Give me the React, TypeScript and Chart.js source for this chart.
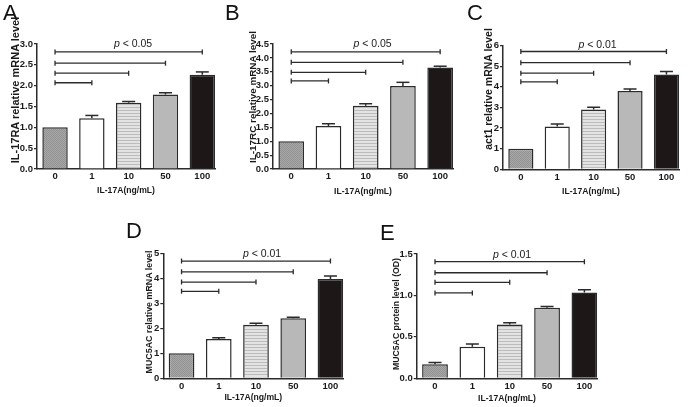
import React, { useEffect, useRef } from "react";
import { Chart, registerables } from "chart.js";
Chart.register(...registerables);

const FONT = "'Liberation Sans', Arial, Helvetica, sans-serif";
Chart.defaults.font.family = FONT;
Chart.defaults.color = "#1a1a1a";

// ---- shared data ----
const categories = ["0", "1", "10", "50", "100"];
const xAxisTitle = "IL-17A(ng/mL)";

// ---- panel A ----
const valuesA = [1.0, 1.22, 1.59, 1.79, 2.26];
const errorsA = [0, 0.065, 0.03, 0.04, 0.07];
const bracketsA = [2.07, 2.3, 2.54, 2.81];
const yTicksA = { max: 3, step: 0.5, decimals: 1 };

// ---- panel B ----
const valuesB = [1.0, 1.55, 2.28, 2.99, 3.65];
const errorsB = [0, 0.08, 0.07, 0.13, 0.05];
const bracketsB = [3.17, 3.48, 3.84, 4.22];
const yTicksB = { max: 4.5, step: 0.5, decimals: 1 };

// ---- panel C ----
const valuesC = [1.0, 2.07, 2.9, 3.8, 4.6];
const errorsC = [0, 0.13, 0.11, 0.09, 0.14];
const bracketsC = [4.24, 4.66, 5.17, 5.71];
const yTicksC = { max: 6, step: 1, decimals: 0 };

// ---- panel D ----
const valuesD = [1.0, 1.57, 2.14, 2.4, 3.97];
const errorsD = [0, 0.05, 0.06, 0.04, 0.12];
const bracketsD = [3.48, 3.85, 4.26, 4.69];
const yTicksD = { max: 5, step: 1, decimals: 0 };

// ---- panel E ----
const valuesE = [0.17, 0.38, 0.65, 0.85, 1.035];
const errorsE = [0.02, 0.035, 0.02, 0.015, 0.035];
const bracketsE = [1.03, 1.158, 1.274, 1.407];
const yTicksE = { max: 1.5, step: 0.5, decimals: 1 };

type Panel = {
  letter: string;
  values: number[];
  errors: number[];
  brackets: number[];
  yt: { max: number; step: number; decimals: number };
  yTitle: string;
  pValue: string;
  box: { left: number; top: number; w: number; h: number };
  pad: { left: number; right: number; top: number; bottom: number };
  yW: number;
  xH: number;
  xTitlePad: number;
  yTitlePos: { x: number; y: number; size: number };
  pPos: { x: number; y: number };
  letterPos: { x: number; y: number };
};

const panels: Panel[] = [
  {
    letter: "A", values: valuesA, errors: errorsA, brackets: bracketsA, yt: yTicksA,
    yTitle: "IL-17RA relative mRNA level", pValue: "0.05",
    box: { left: 0, top: 0, w: 225, h: 200 },
    pad: { left: 0, right: 10, top: 44, bottom: 0 },
    yW: 37, xH: 31, xTitlePad: 4,
    yTitlePos: { x: 15, y: 90, size: 11 }, pPos: { x: 133, y: 43 }, letterPos: { x: 3, y: 2 },
  },
  {
    letter: "B", values: valuesB, errors: errorsB, brackets: bracketsB, yt: yTicksB,
    yTitle: "IL-17RC relative mRNA level", pValue: "0.05",
    box: { left: 230, top: 0, w: 230, h: 200 },
    pad: { left: 0, right: 7, top: 44, bottom: 0 },
    yW: 43, xH: 31, xTitlePad: 3,
    yTitlePos: { x: 252.5, y: 96.5, size: 9.9 }, pPos: { x: 372.5, y: 43 }, letterPos: { x: 225, y: 2 },
  },
  {
    letter: "C", values: valuesC, errors: errorsC, brackets: bracketsC, yt: yTicksC,
    yTitle: "act1 relative mRNA level", pValue: "0.01",
    box: { left: 462, top: 0, w: 227, h: 200 },
    pad: { left: 0, right: 10, top: 45.5, bottom: 0 },
    yW: 41, xH: 30.7, xTitlePad: 3,
    yTitlePos: { x: 487.5, y: 89, size: 10.5 }, pPos: { x: 597.5, y: 44 }, letterPos: { x: 467, y: 2 },
  },
  {
    letter: "D", values: valuesD, errors: errorsD, brackets: bracketsD, yt: yTicksD,
    yTitle: "MUC5AC relative mRNA level", pValue: "0.01",
    box: { left: 120, top: 210, w: 235, h: 197 },
    pad: { left: 0, right: 11.7, top: 43.3, bottom: 0 },
    yW: 43.3, xH: 28.7, xTitlePad: 4,
    yTitlePos: { x: 149, y: 311.5, size: 8.9 }, pPos: { x: 262, y: 253 }, letterPos: { x: 126, y: 220 },
  },
  {
    letter: "E", values: valuesE, errors: errorsE, brackets: bracketsE, yt: yTicksE,
    yTitle: "MUC5AC protein level (OD)", pValue: "0.01",
    box: { left: 370, top: 210, w: 240, h: 197 },
    pad: { left: 0, right: 12.7, top: 44, bottom: 0 },
    yW: 46.7, xH: 28.7, xTitlePad: 3,
    yTitlePos: { x: 396, y: 314, size: 8.7 }, pPos: { x: 512, y: 253.5 }, letterPos: { x: 380, y: 222 },
  },
];

const INK = "#2b2b2b";

function makePattern(
  ctx: CanvasRenderingContext2D,
  w: number,
  h: number,
  draw: (c: CanvasRenderingContext2D) => void
) {
  const c = document.createElement("canvas");
  c.width = w;
  c.height = h;
  const cc = c.getContext("2d")!;
  draw(cc);
  return ctx.createPattern(c, "repeat")!;
}

function PanelChart({ p }: { p: Panel }) {
  const ref = useRef<HTMLCanvasElement>(null);
  useEffect(() => {
    const canvas = ref.current!;
    const ctx = canvas.getContext("2d")!;
    const checker = makePattern(ctx, 2, 2, (c) => {
      c.fillStyle = "#a6a6a6";
      c.fillRect(0, 0, 2, 2);
      c.fillStyle = "#949494";
      c.fillRect(0, 0, 1, 1);
      c.fillRect(1, 1, 1, 1);
    });
    const stripes = makePattern(ctx, 4, 3, (c) => {
      c.fillStyle = "#e3e3e3";
      c.fillRect(0, 0, 4, 3);
      c.fillStyle = "#bcbcbc";
      c.fillRect(0, 2, 4, 1);
    });
    const fills: (string | CanvasPattern)[] = [checker, "#ffffff", stripes, "#b8b8b8", "#1d1717"];

    const errData: { x: number; y: number | null }[] = [];
    p.values.forEach((v, i) => {
      if (p.errors[i] > 0) {
        errData.push({ x: i, y: v }, { x: i, y: v + p.errors[i] }, { x: i, y: null });
      }
    });

    const bracketSets = p.brackets.map((level, k) => ({
      type: "line" as const,
      data: [
        { x: 0, y: level },
        { x: k + 1, y: level },
      ],
      borderColor: INK,
      borderWidth: 1.3,
      pointStyle: "line" as const,
      rotation: 90,
      pointRadius: 2.5,
      pointHoverRadius: 2.5,
      pointBorderColor: INK,
      pointBorderWidth: 1.3,
      fill: false,
      order: 0,
    }));

    const chart = new Chart(ctx, {
      type: "bar",
      data: {
        datasets: [
          {
            type: "bar",
            data: p.values.map((v, i) => ({ x: i, y: v })),
            backgroundColor: fills,
            borderColor: INK,
            borderWidth: 1.5,
            categoryPercentage: 1,
            barPercentage: 0.69,
            order: 1,
          } as any,
          {
            type: "line",
            data: errData,
            borderColor: INK,
            borderWidth: 1.5,
            spanGaps: false,
            pointStyle: "line",
            pointRadius: (c: any) => (c.dataIndex % 3 === 1 ? 6.5 : 0),
            pointHoverRadius: (c: any) => (c.dataIndex % 3 === 1 ? 6.5 : 0),
            pointBorderColor: INK,
            pointBorderWidth: 1.5,
            fill: false,
            order: 0,
          } as any,
          ...(bracketSets as any[]),
        ],
      },
      options: {
        responsive: false,
        maintainAspectRatio: false,
        animation: false,
        devicePixelRatio: 1,
        events: [],
        layout: { padding: p.pad },
        plugins: { legend: { display: false }, tooltip: { enabled: false } },
        scales: {
          x: {
            type: "linear",
            min: -0.49,
            max: 4.345,
            offset: false,
            afterBuildTicks: (s: any) => {
              s.ticks = categories.map((_, i) => ({ value: i }));
            },
            afterFit: (s: any) => {
              s.height = p.xH;
            },
            grid: { display: false, drawTicks: false, offset: false },
            border: { display: true, color: INK, width: 1.5 },
            ticks: {
              autoSkip: false,
              maxRotation: 0,
              padding: 2,
              font: { size: 9.5, weight: "bold" },
              color: "#1a1a1a",
              callback: (v: any) => categories[Math.round(Number(v))] ?? "",
            },
            title: {
              display: true,
              text: xAxisTitle,
              font: { size: 8.6, weight: "bold" },
              color: "#1a1a1a",
              padding: { top: 0, bottom: p.xTitlePad },
            },
          },
          y: {
            min: 0,
            max: p.yt.max,
            afterFit: (s: any) => {
              s.width = p.yW;
            },
            grid: {
              display: true,
              drawOnChartArea: false,
              drawTicks: true,
              tickLength: 3,
              color: INK,
              lineWidth: 1.2,
            },
            border: { display: true, color: INK, width: 1.5 },
            ticks: {
              autoSkip: false,
              stepSize: p.yt.step,
              padding: 1,
              font: { size: 9.5, weight: "bold" },
              color: "#1a1a1a",
              callback: (v: any) => Number(v).toFixed(p.yt.decimals),
            },
          },
        },
      } as any,
    });
    return () => chart.destroy();
  }, []);
  return (
    <canvas
      ref={ref}
      width={p.box.w}
      height={p.box.h}
      style={{ position: "absolute", left: p.box.left, top: p.box.top, width: p.box.w, height: p.box.h }}
    />
  );
}

export default function App() {
  return (
    <div
      style={{
        position: "absolute",
        left: 0,
        top: 0,
        width: 689,
        height: 407,
        background: "#ffffff",
        overflow: "hidden",
        fontFamily: FONT,
        color: "#1a1a1a",
      }}
    >
      {panels.map((p) => (
        <React.Fragment key={p.letter}>
          <PanelChart p={p} />
          <div
            style={{
              position: "absolute",
              left: p.letterPos.x,
              top: p.letterPos.y,
              fontSize: 22,
              lineHeight: 1,
              color: "#111",
            }}
          >
            {p.letter}
          </div>
          <div
            style={{
              position: "absolute",
              left: p.yTitlePos.x,
              top: p.yTitlePos.y,
              fontSize: p.yTitlePos.size,
              fontWeight: "bold",
              lineHeight: 1,
              whiteSpace: "nowrap",
              transform: "translate(-50%, -50%) rotate(-90deg)",
            }}
          >
            {p.yTitle}
          </div>
          <div
            style={{
              position: "absolute",
              left: p.pPos.x,
              top: p.pPos.y,
              fontSize: 10.5,
              lineHeight: 1,
              whiteSpace: "nowrap",
              transform: "translate(-50%, -50%)",
            }}
          >
            <i>p</i> &lt; {p.pValue}
          </div>
        </React.Fragment>
      ))}
    </div>
  );
}
